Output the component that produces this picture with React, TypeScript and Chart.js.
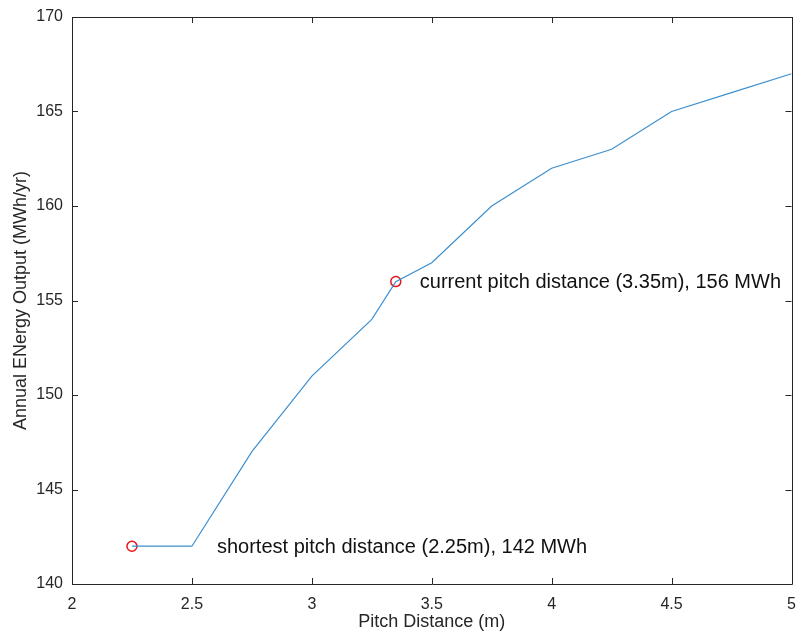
import React, { useEffect, useRef } from "react";
import { Chart, registerables } from "chart.js";

Chart.register(...registerables);

const pitchDistance = [2.25, 2.5, 2.75, 3.0, 3.25, 3.35, 3.5, 3.75, 4.0, 4.25, 4.5, 4.75, 5.0];
const energyOutput = [142, 142, 147, 151, 154, 156, 157, 160, 162, 163, 165, 166, 167];
const markedX = [2.25, 3.35];
const markedY = [142, 156];
const markedLabels = [
  "shortest pitch distance (2.25m), 142 MWh",
  "current pitch distance (3.35m), 156 MWh",
];
const xTicks = [2, 2.5, 3, 3.5, 4, 4.5, 5];
const yTicks = [140, 145, 150, 155, 160, 165, 170];

const FONT = "'Liberation Sans', Arial, Helvetica, sans-serif";
const AXIS_COLOR = "#262626";

const framePlugin = {
  id: "frame",
  afterDatasetsDraw(chart: any) {
    const { ctx, chartArea: a, scales } = chart;
    const xs = scales.x;
    const ys = scales.y;
    ctx.save();
    ctx.strokeStyle = AXIS_COLOR;
    ctx.lineWidth = 1;
    ctx.beginPath();
    ctx.rect(Math.round(a.left) + 0.5, Math.round(a.top) + 0.5, Math.round(a.right - a.left), Math.round(a.bottom - a.top));
    ctx.stroke();
    const tl = 6;
    ctx.beginPath();
    xTicks.forEach((v) => {
      const px = Math.round(xs.getPixelForValue(v)) + 0.5;
      ctx.moveTo(px, a.bottom);
      ctx.lineTo(px, a.bottom - tl);
      ctx.moveTo(px, a.top);
      ctx.lineTo(px, a.top + tl);
    });
    yTicks.forEach((v) => {
      const py = Math.round(ys.getPixelForValue(v)) + 0.5;
      ctx.moveTo(a.left, py);
      ctx.lineTo(a.left + tl, py);
      ctx.moveTo(a.right, py);
      ctx.lineTo(a.right - tl, py);
    });
    ctx.stroke();

    // annotations
    ctx.fillStyle = "#111111";
    ctx.font = `20px ${FONT}`;
    ctx.textBaseline = "middle";
    ctx.textAlign = "left";
    markedLabels.forEach((t, i) => {
      const px = xs.getPixelForValue(markedX[i]);
      const py = ys.getPixelForValue(markedY[i]);
      const dx = i === 0 ? 85 : 24;
      ctx.fillText(t, px + dx, py + 1);
    });

    // axis titles
    ctx.fillStyle = AXIS_COLOR;
    ctx.font = `18px ${FONT}`;
    ctx.textAlign = "center";
    ctx.textBaseline = "middle";
    ctx.fillText("Pitch Distance (m)", (a.left + a.right) / 2, 622);
    ctx.save();
    ctx.translate(21, (a.top + a.bottom) / 2);
    ctx.rotate(-Math.PI / 2);
    ctx.fillText("Annual ENergy Output (MWh/yr)", 0, 0);
    ctx.restore();
    ctx.restore();
  },
};

export default function App() {
  const ref = useRef<HTMLCanvasElement | null>(null);
  useEffect(() => {
    if (!ref.current) return;
    const chart = new Chart(ref.current, {
      type: "line",
      data: {
        datasets: [
          {
            data: pitchDistance.map((x, i) => ({ x, y: energyOutput[i] })),
            borderColor: "#3d8fcf",
            borderWidth: 1.2,
            pointRadius: 0,
            tension: 0,
          },
          {
            data: markedX.map((x, i) => ({ x, y: markedY[i] })),
            showLine: false,
            borderColor: "#e8151b",
            backgroundColor: "rgba(0,0,0,0)",
            pointRadius: 5,
            pointBorderWidth: 1.5,
            pointStyle: "circle",
          },
        ],
      },
      options: {
        animation: false,
        responsive: false,
        devicePixelRatio: 1,
        layout: { padding: { left: 0, right: 6, top: 17, bottom: 0 } },
        plugins: { legend: { display: false }, tooltip: { enabled: false } },
        scales: {
          x: {
            type: "linear",
            min: 2,
            max: 5,
            grid: { display: false, drawTicks: false },
            border: { display: false },
            afterBuildTicks: (s: any) => {
              s.ticks = xTicks.map((v) => ({ value: v }));
            },
            afterFit: (s: any) => {
              s.height = 51;
              s.paddingLeft = 0;
              s.paddingRight = 0;
            },
            ticks: {
              padding: 11,
              color: AXIS_COLOR,
              font: { family: FONT, size: 16 },
              maxRotation: 0,
              callback: (v: any) => String(v),
            },
          },
          y: {
            type: "linear",
            min: 140,
            max: 170,
            grid: { display: false, drawTicks: false },
            border: { display: false },
            afterBuildTicks: (s: any) => {
              s.ticks = yTicks.map((v) => ({ value: v }));
            },
            afterFit: (s: any) => {
              s.width = 72;
              s.paddingTop = 0;
              s.paddingBottom = 0;
            },
            ticks: {
              padding: 9,
              color: AXIS_COLOR,
              font: { family: FONT, size: 16 },
              callback: (v: any) => String(v),
            },
          },
        },
      },
      plugins: [framePlugin],
    });
    return () => chart.destroy();
  }, []);
  return (
    <div style={{ position: "absolute", left: 0, top: 0, width: 798, height: 635, background: "#fff" }}>
      <canvas ref={ref} width={798} height={635} style={{ display: "block" }} />
    </div>
  );
}
